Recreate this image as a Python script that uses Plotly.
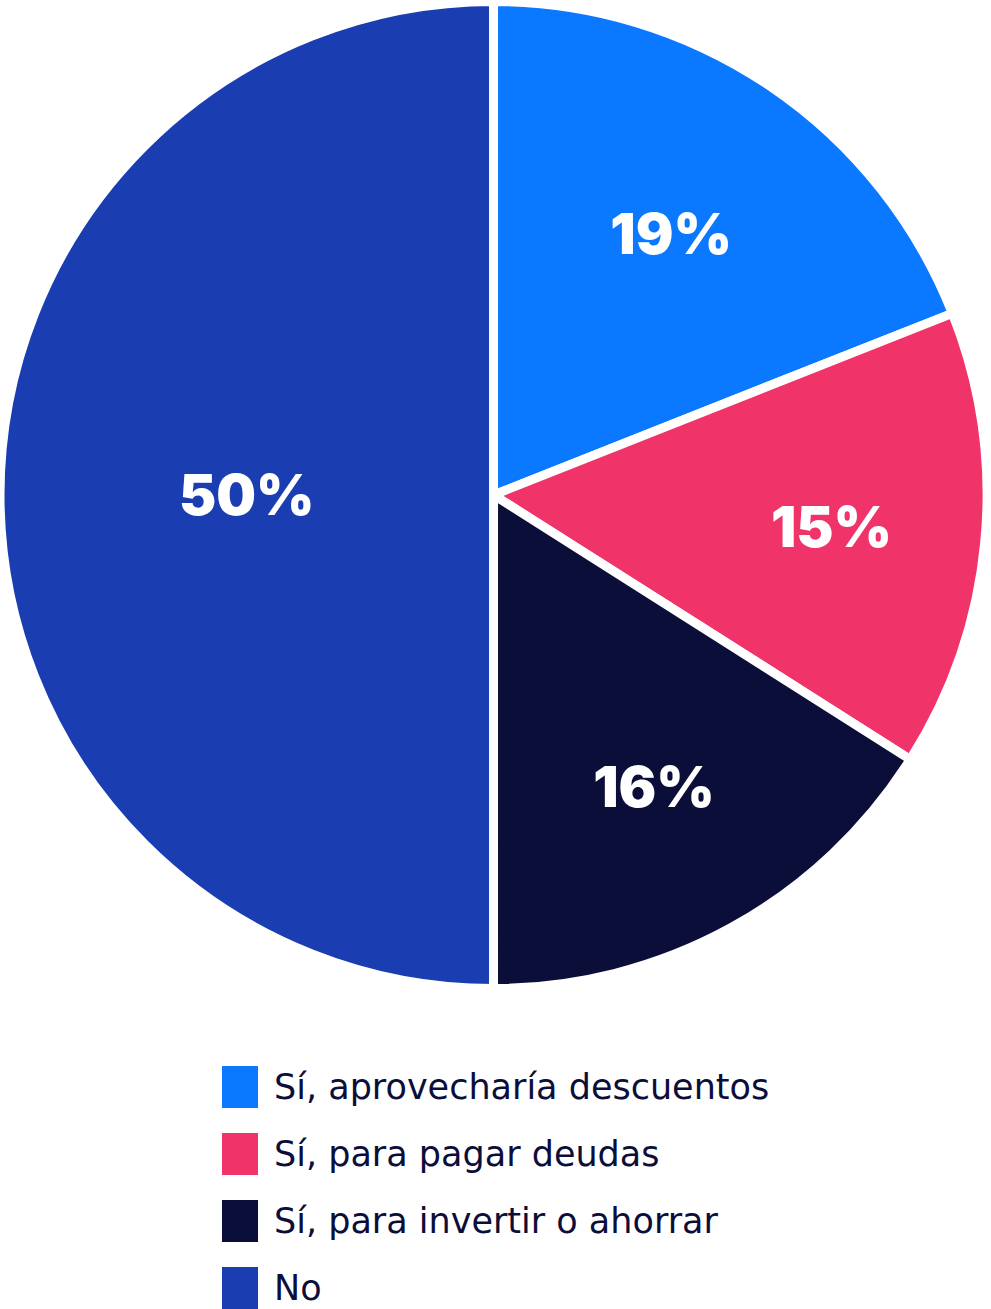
import plotly.graph_objects as go

labels = ["Sí, aprovecharía descuentos", "Sí, para pagar deudas", "Sí, para invertir o ahorrar", "No"]
values = [19, 15, 16, 50]
colors = ["#0a78ff", "#f0346a", "#0c0e3a", "#1a3db2"]

W, H = 991, 1309
pie_d = 990

fig = go.Figure()
fig.add_trace(go.Pie(
    labels=labels,
    values=values,
    sort=False,
    direction="clockwise",
    rotation=0,
    marker=dict(colors=colors, line=dict(color="white", width=9)),
    texttemplate="%{value}%",
    textposition="inside",
    insidetextorientation="horizontal",
    textfont=dict(family="Inter, Roboto, sans-serif", size=56, color="white", weight=900),
    hoverinfo="label+percent",
    showlegend=False,
    domain=dict(x=[0, 0.996], y=[1 - pie_d / H, 1]),
))

# custom legend (big square swatches)
leg_x0 = 222
leg_y0 = 1087
leg_step = 67
for i, (lab, col) in enumerate(zip(labels, colors)):
    yc = leg_y0 + i * leg_step
    fig.add_shape(type="rect", xref="paper", yref="paper",
                  x0=leg_x0 / W, x1=(leg_x0 + 36) / W,
                  y0=1 - (yc + 21) / H, y1=1 - (yc - 21) / H,
                  fillcolor=col, line=dict(width=0))
    fig.add_annotation(xref="paper", yref="paper", x=(leg_x0 + 50) / W, y=1 - yc / H,
                       text=lab, showarrow=False, xanchor="left", yanchor="middle",
                       font=dict(family="DejaVu Sans, sans-serif", size=35, color="#0c0e3a"))

fig.update_layout(
    width=W, height=H,
    margin=dict(l=0, r=0, t=0, b=0),
    paper_bgcolor="white",
    plot_bgcolor="white",
)
fig.write_html("out.html", config={"displayModeBar": False},
               post_script="document.body.style.margin='0';document.body.style.overflow='hidden';")
